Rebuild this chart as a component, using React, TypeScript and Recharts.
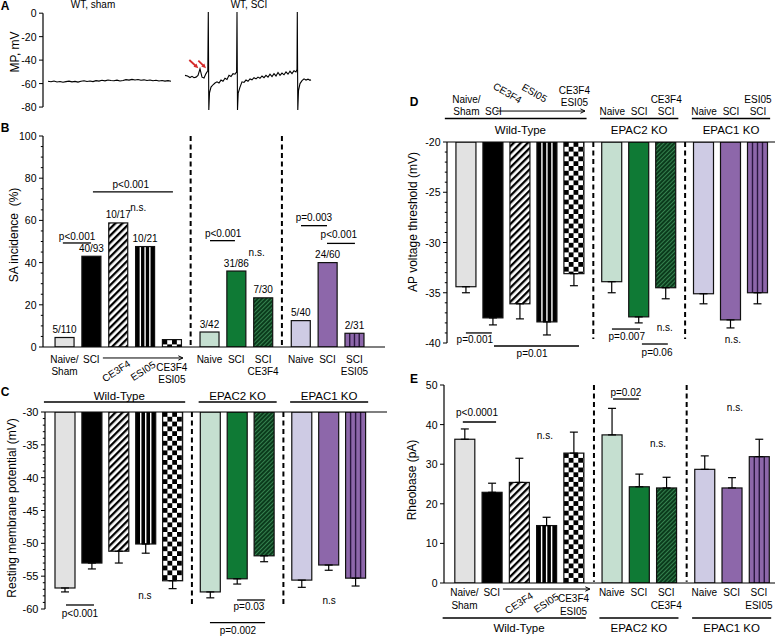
import React from 'react';
import {
  BarChart, Bar, XAxis, YAxis, ReferenceLine, ReferenceDot, ErrorBar, LabelList,
  LineChart, Line,
} from 'recharts';

const FONT = '"Liberation Sans", Arial, Helvetica, sans-serif';

// ---------- Panel A: membrane potential traces (time in ms, MP in mV)
const shamTime = [5, 8, 11, 14, 17, 20, 23, 26, 29, 32, 35, 38, 41, 44, 47, 50, 53, 56, 59, 62, 65, 68, 71, 74, 77, 80, 83, 86, 89, 92, 95, 98, 101, 104, 107, 110, 113, 116, 119, 122, 125, 128];
const shamMP = [-58.0, -58.4, -57.8, -58.6, -58.2, -58.9, -58.3, -57.9, -58.5, -58.1, -58.7, -58.0, -57.6, -58.2, -57.8, -58.3, -57.5, -57.9, -57.2, -57.7, -56.9, -57.4, -57.6, -57.1, -57.8, -57.3, -56.6, -57.0, -56.4, -56.9, -56.5, -57.2, -56.8, -57.4, -57.0, -57.6, -57.2, -57.8, -57.4, -57.9, -57.5, -58.0];
const sciTime = [142, 144.5, 147, 149, 151, 153, 155, 157, 159, 161, 163, 164.8, 165.3, 165.8, 166.5, 168, 170, 172, 174, 176, 178, 180, 182, 184, 186, 188, 190, 192, 193.6, 194, 194.5, 195.2, 197, 199, 201, 203, 205, 207, 209, 211, 213, 215, 217, 219, 221, 223, 225, 227, 229, 231, 233, 235, 237, 239, 241, 243, 245, 247, 249, 251, 253, 254, 254.3, 254.8, 255.5, 257, 259, 261, 263, 265, 267, 268];
const sciMP = [-53, -53.5, -54.8, -53.8, -55, -54.5, -53, -47.5, -54.5, -55.2, -51.5, -49, 1, -82.5, -68, -63, -61, -59.5, -58.5, -59.5, -57, -58, -55.5, -56.5, -53, -54, -51.5, -52, -50, 1, -82.5, -68, -63, -58.5, -59, -57, -58, -56, -56.8, -55, -56, -54.5, -55.5, -53.5, -55, -53, -54.5, -52, -54, -51.5, -53.5, -50.5, -53, -51, -52.5, -50, -52, -49.5, -51.5, -49, -50, -48, 1, -82.5, -66, -60, -57.5, -56, -57, -56.2, -57.2, -56.8];
const traceTicks = [0, -20, -40, -60, -80];

// ---------- Bar categories
const groupNames = ['Wild-Type', 'EPAC2 KO', 'EPAC1 KO'];
const groupSizes = [5, 3, 3];
const barKinds = ['naiveWT', 'sciWT', 'ce3f4WT', 'esi05WT', 'comboWT', 'naiveE2', 'sciE2', 'ce3f4E2', 'naiveE1', 'sciE1', 'esi05E1'];

const labelsBottom = [['Naive/', 'Sham'], ['SCI'], ['CE3F4'], ['ESI05'], ['CE3F4', 'ESI05'], ['Naive'], ['SCI'], ['SCI', 'CE3F4'], ['Naive'], ['SCI'], ['SCI', 'ESI05']];
const labelsTop = [['Naive/', 'Sham'], ['SCI'], ['CE3F4'], ['ESI05'], ['CE3F4', 'ESI05'], ['Naive'], ['SCI'], ['CE3F4', 'SCI'], ['Naive'], ['SCI'], ['ESI05', 'SCI']];
const labelModes = ['stack', 'stack', 'rot', 'rot', 'low', 'stack', 'stack', 'stack', 'stack', 'stack', 'stack'];

// ---------- Values
const saIncidence = [4.5, 43.0, 58.8, 47.6, 3.5, 7.1, 36.0, 23.3, 12.5, 40.0, 6.5];
const saFraction = ['5/110', '40/93', '10/17', '10/21', '', '3/42', '31/86', '7/30', '5/40', '24/60', '2/31'];
const rmpMean = [-56.8, -53.0, -51.2, -50.1, -55.7, -57.4, -55.4, -51.9, -55.6, -53.3, -55.3];
const rmpSem = [0.6, 0.9, 1.8, 1.4, 1.2, 0.9, 0.8, 0.9, 1.1, 0.8, 1.2];
const thrMean = [-34.4, -37.5, -36.1, -37.9, -33.1, -33.9, -37.4, -34.5, -35.1, -37.7, -35.0];
const thrSem = [0.6, 0.7, 1.5, 1.3, 1.2, 1.1, 0.6, 1.1, 1.0, 0.8, 1.1];
const rheoMean = [36.3, 22.9, 25.4, 14.5, 32.8, 37.4, 24.3, 24.0, 28.7, 24.0, 31.9];
const rheoSem = [2.6, 2.3, 6.1, 2.1, 5.3, 6.7, 3.2, 2.7, 3.4, 2.6, 4.4];

const saTicks = [0, 20, 40, 60, 80, 100];
const rmpTicks = [-60, -55, -50, -45, -40, -35, -30];
const thrTicks = [-40, -35, -30, -25, -20];
const rheoTicks = [0, 10, 20, 30, 40, 50];

// ---------- layout helpers (category slots with a gap between genotype groups)
const GAP = 0.4;
const barPos: number[] = [];
const groupFirst: number[] = [];
const groupLast: number[] = [];
{
  let s = 0;
  groupSizes.forEach((n) => {
    groupFirst.push(s);
    for (let i = 0; i < n; i++) barPos.push(s + i);
    groupLast.push(s + n - 1);
    s += n + GAP;
  });
}
const sepPos = [0, 1].map((g) => (groupLast[g] + groupFirst[g + 1]) / 2);

function makeRows(panel: string, values: number[], sems: number[] | null, dir: 'down' | 'up', fracs?: string[]) {
  return barKinds.map((kind, i) => ({
    panel, i, kind,
    pos: barPos[i],
    value: values[i],
    err: sems ? (dir === 'down' ? [sems[i], 0] : [0, sems[i]]) : undefined,
    frac: fracs ? fracs[i] : '',
  }));
}

function buildTicks(lo: number, hi: number, step: number) {
  const out: number[] = [];
  for (let v = lo; v <= hi + 1e-9; v += step) out.push(Math.round(v * 1000) / 1000);
  return out;
}

const makeYTick = (majors: number[], fs: number) => (p: any) => {
  const v = Number(p.payload.value);
  const isMajor = majors.some((m) => Math.abs(m - v) < 1e-6);
  const L = isMajor ? 4 : 2.2;
  return (
    <g>
      <line x1={p.x - L} x2={p.x} y1={p.y} y2={p.y} stroke="#000" strokeWidth={1} />
      {isMajor && (
        <text x={p.x - L - 2.5} y={p.y} textAnchor="end" dominantBaseline="central" fontSize={fs} fontFamily={FONT} fill="#000">
          {String(v)}
        </text>
      )}
    </g>
  );
};

type TickCfg = { side: 'top' | 'bottom'; first: number; rot: number; low: number; gap: number; angle: number; rotDx: number; fs: number; labels: string[][] };

const makeXTick = (cfg: TickCfg) => (p: any) => {
  const v = Number(p.payload.value);
  const i = barPos.findIndex((q) => Math.abs(q - v) < 1e-6);
  if (i < 0) return <g />;
  const lines = cfg.labels[i];
  const mode = labelModes[i];
  const dir = cfg.side === 'bottom' ? 1 : -1;
  const common = { textAnchor: 'middle' as const, dominantBaseline: 'central' as const, fontSize: cfg.fs, fontFamily: FONT, fill: '#000' };
  if (mode === 'rot') {
    const cx = p.x + cfg.rotDx;
    const cy = p.y + dir * cfg.rot;
    return (
      <g>
        <text {...common} x={0} y={0} transform={`translate(${cx},${cy}) rotate(${cfg.angle})`}>{lines[0]}</text>
      </g>
    );
  }
  const base = mode === 'low' ? cfg.low : cfg.first;
  const n = lines.length;
  return (
    <g>
      {lines.map((s, k) => {
        const off = cfg.side === 'bottom' ? base + k * cfg.gap : -(base + (n - 1 - k) * cfg.gap);
        return <text key={k} {...common} x={p.x} y={p.y + off}>{s}</text>;
      })}
    </g>
  );
};

const BAR_LOOK: Record<string, { fill?: string; pattern?: string; stripe?: string }> = {
  naiveWT: { fill: '#e2e2e2' },
  sciWT: { fill: '#000000' },
  ce3f4WT: { pattern: 'hatch' },
  esi05WT: { fill: '#000000', stripe: '#ffffff' },
  comboWT: { pattern: 'checker' },
  naiveE2: { fill: '#c5dfd0' },
  sciE2: { fill: '#0f7a35' },
  ce3f4E2: { pattern: 'hatchG' },
  naiveE1: { fill: '#cecbe4' },
  sciE1: { fill: '#8d67aa' },
  esi05E1: { fill: '#8d67aa', stripe: '#2a1740' },
};

const BarShape = (p: any) => {
  const { x, y, width, height, payload } = p;
  if (x == null || y == null || width == null || height == null || !payload) return <g />;
  const top = height < 0 ? y + height : y;
  const h = Math.abs(height);
  const look = BAR_LOOK[payload.kind] || { fill: '#ccc' };
  const id = `pat-${payload.panel}-${payload.i}`;
  let fill = look.fill || '#fff';
  let defs: React.ReactNode = null;
  if (look.pattern === 'hatch') {
    defs = (
      <pattern id={id} patternUnits="userSpaceOnUse" width={5} height={5} patternTransform="rotate(45)">
        <rect width={5} height={5} fill="#fff" />
        <rect width={2.3} height={5} fill="#000" />
      </pattern>
    );
    fill = `url(#${id})`;
  } else if (look.pattern === 'hatchG') {
    defs = (
      <pattern id={id} patternUnits="userSpaceOnUse" width={3} height={3} patternTransform="rotate(45)">
        <rect width={3} height={3} fill="#0b3b1c" />
        <rect width={0.9} height={3} fill="#3a8a55" />
      </pattern>
    );
    fill = `url(#${id})`;
  } else if (look.pattern === 'checker') {
    const c = 4.8;
    defs = (
      <pattern id={id} patternUnits="userSpaceOnUse" x={x} y={top} width={2 * c} height={2 * c}>
        <rect width={2 * c} height={2 * c} fill="#fff" />
        <rect width={c} height={c} fill="#000" />
        <rect x={c} y={c} width={c} height={c} fill="#000" />
      </pattern>
    );
    fill = `url(#${id})`;
  }
  const stripes = look.stripe
    ? [1, 2, 3].map((k) => (
        <line key={k} x1={x + (width * k) / 4} x2={x + (width * k) / 4} y1={top} y2={top + h} stroke={look.stripe} strokeWidth={1.4} />
      ))
    : null;
  return (
    <g>
      {defs && <defs>{defs}</defs>}
      <rect x={x} y={top} width={width} height={h} fill={fill} />
      {stripes}
      <rect x={x} y={top} width={width} height={h} fill="none" stroke="#111" strokeWidth={1.2} />
    </g>
  );
};

const FracLabel = (p: any) => {
  if (!p.value) return null;
  return (
    <text x={p.x + p.width / 2} y={p.y - 8} textAnchor="middle" dominantBaseline="central" fontSize={10} fontFamily={FONT} fill="#000">
      {p.value}
    </text>
  );
};

// ---------- annotation helpers (data coordinates)
const hl = (k: string, x1: number, x2: number, y: number) => (
  <ReferenceLine key={k} segment={[{ x: x1, y }, { x: x2, y }]} stroke="#000" strokeWidth={1.3} ifOverflow="visible" />
);
const note = (k: string, x: number, y: number, text: string, size = 10) => (
  <ReferenceDot
    key={k} x={x} y={y} r={1} ifOverflow="visible"
    shape={(p: any) => (
      <text x={p.cx} y={p.cy} textAnchor="middle" dominantBaseline="central" fontSize={size} fontFamily={FONT} fill="#000">{text}</text>
    )}
  />
);
const dashV = (k: string, x: number, y1: number, y2: number) => (
  <ReferenceLine key={k} segment={[{ x, y: y1 }, { x, y: y2 }]} stroke="#000" strokeWidth={2} strokeDasharray="5 3.5" ifOverflow="visible" />
);

const ArrowShape = (filled: boolean, head: number, sw: number) => (p: any) => {
  const { x1, y1, x2, y2, stroke } = p;
  if ([x1, y1, x2, y2].some((v) => v == null || isNaN(v))) return <g />;
  const a = Math.atan2(y2 - y1, x2 - x1);
  const hx1 = x2 - head * Math.cos(a - 0.45), hy1 = y2 - head * Math.sin(a - 0.45);
  const hx2 = x2 - head * Math.cos(a + 0.45), hy2 = y2 - head * Math.sin(a + 0.45);
  if (filled) {
    const ex = x2 - head * 0.8 * Math.cos(a), ey = y2 - head * 0.8 * Math.sin(a);
    return (
      <g>
        <line x1={x1} y1={y1} x2={ex} y2={ey} stroke={stroke} strokeWidth={sw} />
        <path d={`M${x2},${y2} L${hx1},${hy1} L${hx2},${hy2} Z`} fill={stroke} />
      </g>
    );
  }
  return (
    <g>
      <line x1={x1} y1={y1} x2={x2} y2={y2} stroke={stroke} strokeWidth={sw} />
      <path d={`M${hx1},${hy1} L${x2},${y2} L${hx2},${hy2}`} fill="none" stroke={stroke} strokeWidth={sw} />
    </g>
  );
};
const arrowRef = (k: string, xa: number, ya: number, xb: number, yb: number, color: string, filled: boolean, head: number, sw: number) => (
  <ReferenceLine key={k} segment={[{ x: xa, y: ya }, { x: xb, y: yb }]} stroke={color} ifOverflow="visible" shape={ArrowShape(filled, head, sw)} />
);

const groupMarks = (p: string, lineY: number, labelY: number) =>
  groupNames.flatMap((name, g) => [
    hl(`${p}gl${g}`, groupFirst[g] - (g === 0 ? 0.8 : 0.45), groupLast[g] + 0.45, lineY),
    note(`${p}gt${g}`, (groupFirst[g] + groupLast[g]) / 2, labelY, name, 11.5),
  ]);
const separators = (p: string, y1: number, y2: number, shift = 0) => sepPos.map((x, k) => dashV(`${p}sep${k}`, x + shift, y1, y2));

// ---------- generic bar panel
type PanelProps = {
  box: [number, number, number, number];
  margin: { top: number; right: number; bottom: number; left: number };
  xDomain: [number, number];
  yDomain: [number, number];
  majors: number[];
  minorStep: number;
  rows: any[];
  xSide: 'top' | 'bottom';
  tickCfg?: TickCfg;
  barSize: number;
  errors: boolean;
  fracs: boolean;
  notes: React.ReactNode[];
  tickFs: number;
};

function BarPanel(props: PanelProps) {
  const { box, margin, xDomain, yDomain, majors, minorStep, rows, xSide, tickCfg, barSize, errors, fracs, notes, tickFs } = props;
  const yTicks = buildTicks(yDomain[0], yDomain[1], minorStep);
  return (
    <div style={{ position: 'absolute', left: box[0], top: box[1], width: box[2], height: box[3] }}>
      <BarChart width={box[2]} height={box[3]} data={rows} margin={margin}>
        <XAxis
          type="number" dataKey="pos" domain={xDomain} allowDataOverflow orientation={xSide} height={10}
          ticks={tickCfg ? barPos : []} interval={0} tick={tickCfg ? makeXTick(tickCfg) : false}
          tickLine={false} tickSize={0} tickMargin={0} axisLine={{ stroke: '#000', strokeWidth: 1.2 }}
        />
        <YAxis
          type="number" domain={yDomain} allowDataOverflow ticks={yTicks} interval={0}
          tick={makeYTick(majors, tickFs)} tickLine={false} tickSize={0} tickMargin={0} width={30}
          axisLine={{ stroke: '#000', strokeWidth: 1.2 }}
        />
        <Bar dataKey="value" barSize={barSize} shape={BarShape} isAnimationActive={false}>
          {errors && <ErrorBar dataKey="err" width={4} stroke="#000" strokeWidth={1.2} direction="y" />}
          {fracs && <LabelList dataKey="frac" content={FracLabel} />}
        </Bar>
        {notes}
      </BarChart>
    </div>
  );
}

const Txt = ({ x, y, size, bold, rot, children }: { x: number; y: number; size: number; bold?: boolean; rot?: boolean; children: React.ReactNode }) => (
  <div
    style={{
      position: 'absolute', left: x, top: y, transform: `translate(-50%,-50%)${rot ? ' rotate(-90deg)' : ''}`,
      fontSize: size, fontWeight: bold ? 700 : 400, whiteSpace: 'nowrap', lineHeight: 1, fontFamily: FONT, color: '#000',
    }}
  >
    {children}
  </div>
);

export default function App() {
  const shamData = shamTime.map((t, i) => ({ t, v: shamMP[i] }));
  const sciData = sciTime.map((t, i) => ({ t, v: sciMP[i] }));

  const rowsB = makeRows('B', saIncidence, null, 'up', saFraction);
  const rowsC = makeRows('C', rmpMean, rmpSem, 'down');
  const rowsD = makeRows('D', thrMean, thrSem, 'down');
  const rowsE = makeRows('E', rheoMean, rheoSem, 'up');

  const notesB = [
    hl('b1', -0.06, 0.99, 49.3), note('b1t', 0.47, 52.6, 'p<0.001'),
    hl('b2', 1.06, 4.04, 73.5), note('b2t', 2.47, 77.1, 'p<0.001'),
    note('b3', 2.75, 66.2, 'n.s.'),
    hl('b4', 5.42, 6.35, 50.4), note('b4t', 5.91, 53.9, 'p<0.001'),
    note('b5', 7.16, 44.7, 'n.s.'),
    hl('b6', 8.81, 9.78, 57.5), note('b6t', 9.29, 61.3, 'p=0.003'),
    hl('b7', 9.78, 10.82, 49.1), note('b7t', 10.22, 53.1, 'p<0.001'),
    ...separators('b', 1, 100),
    arrowRef('barr', 1.43, -5.2, 4.41, -5.2, '#000', false, 5, 1),
  ];
  const notesC = [
    ...groupMarks('c', -28.48, -27.56),
    hl('c1', 0.02, 1.06, -59.39), note('c1t', 0.54, -60.76, 'p<0.001'),
    note('c2', 2.95, -57.87, 'n.s'),
    hl('c3', 6.38, 7.42, -58.63), note('c3t', 6.82, -59.69, 'p=0.03'),
    hl('c4', 5.37, 7.42, -62.07), note('c4t', 6.41, -63.29, 'p=0.002'),
    note('c5', 9.8, -58.63, 'n.s'),
    ...separators('c', -30, -59.5),
  ];
  const notesD = [
    ...groupMarks('d', -17.66, -18.81),
    arrowRef('darr', 1.09, -16.92, 4.39, -16.92, '#000', false, 5, 1),
    hl('d1', -0.02, 0.94, -39.0), note('d1t', 0.31, -39.7, 'p=0.001'),
    hl('d2', 1.02, 4.17, -40.3), note('d2t', 2.43, -41.09, 'p=0.01'),
    hl('d3', 5.39, 6.43, -38.61), note('d3t', 5.94, -39.4, 'p=0.007'),
    hl('d4', 6.5, 7.46, -40.1), note('d4t', 7.06, -40.99, 'p=0.06'),
    note('d5', 7.35, -38.41, 'n.s.'),
    note('d6', 9.87, -39.7, 'n.s.'),
    ...separators('d', -20, -39.6),
  ];
  const notesE = [
    ...groupMarks('e', -8.84, -11.36),
    arrowRef('earr', 1.41, -1.52, 4.6, -1.52, '#000', false, 5, 1),
    hl('e1', -0.06, 1.16, 40.66), note('e1t', 0.46, 42.93, 'p<0.0001'),
    note('e2', 2.95, 37.37, 'n.s.'),
    hl('e3', 5.45, 6.4, 46.46), note('e3t', 5.92, 48.23, 'p=0.02'),
    note('e4', 7.1, 35.35, 'n.s.'),
    note('e5', 9.92, 44.44, 'n.s.'),
    ...separators('e', 50, 0.3, 0.05),
  ];

  const cfgB: TickCfg = { side: 'bottom', first: 12, rot: 24, low: 20, gap: 12, angle: -33, rotDx: -2, fs: 10, labels: labelsBottom };
  const cfgD: TickCfg = { side: 'top', first: 31, rot: 49, low: 40, gap: 12, angle: 30, rotDx: -13, fs: 10, labels: labelsTop };
  const cfgE: TickCfg = { side: 'bottom', first: 9, rot: 20, low: 15, gap: 13, angle: -33, rotDx: 0, fs: 10, labels: labelsBottom };

  return (
    <div style={{ position: 'absolute', left: 0, top: 0, width: 779, height: 636, background: '#fff', overflow: 'hidden', fontFamily: FONT }}>
      {/* Panel A */}
      <div style={{ position: 'absolute', left: 0, top: 0, width: 390, height: 115 }}>
        <LineChart width={390} height={115} margin={{ top: 12, right: 72, bottom: 5, left: 13 }}>
          <XAxis type="number" dataKey="t" domain={[0, 275]} allowDataOverflow hide />
          <YAxis
            type="number" domain={[-82.5, 1]} allowDataOverflow ticks={traceTicks} interval={0}
            tick={makeYTick(traceTicks, 10.5)} tickLine={false} tickSize={0} tickMargin={0} axisLine={false} width={30}
          />
          <ReferenceLine segment={[{ x: 0, y: 0 }, { x: 0, y: -80 }]} stroke="#000" strokeWidth={1.2} ifOverflow="visible" />
          <Line data={shamData} dataKey="v" type="linear" stroke="#000" strokeWidth={1.1} dot={false} isAnimationActive={false} />
          <Line data={sciData} dataKey="v" type="linear" stroke="#000" strokeWidth={1.1} dot={false} isAnimationActive={false} />
          {arrowRef('a1', 146.3, -39.9, 155.3, -46.9, '#d42a2a', true, 5, 1.8)}
          {arrowRef('a2', 155.3, -40.4, 163, -46.9, '#d42a2a', true, 5, 1.8)}
        </LineChart>
      </div>

      <BarPanel
        box={[0, 125, 390, 260]} margin={{ top: 11, right: 5, bottom: 28, left: 13 }}
        xDomain={[-0.8, 11.94]} yDomain={[0, 100]} majors={saTicks} minorStep={5}
        rows={rowsB} xSide="bottom" tickCfg={cfgB} barSize={19} errors={false} fracs notes={notesB} tickFs={10.5}
      />
      <BarPanel
        box={[0, 385, 390, 251]} margin={{ top: 17, right: 3, bottom: 27, left: 15 }}
        xDomain={[-0.76, 11.95]} yDomain={[-60, -30]} majors={rmpTicks} minorStep={1}
        rows={rowsC} xSide="top" barSize={20} errors fracs={false} notes={notesC} tickFs={11}
      />
      <BarPanel
        box={[390, 60, 389, 300]} margin={{ top: 72, right: 4, bottom: 17, left: 27 }}
        xDomain={[-0.72, 11.43]} yDomain={[-40, -20]} majors={thrTicks} minorStep={1}
        rows={rowsD} xSide="top" tickCfg={cfgD} barSize={20} errors fracs={false} notes={notesD} tickFs={10.5}
      />
      <BarPanel
        box={[390, 370, 389, 266]} margin={{ top: 15, right: 4, bottom: 43, left: 24 }}
        xDomain={[-0.75, 11.39]} yDomain={[0, 50]} majors={rheoTicks} minorStep={10}
        rows={rowsE} xSide="bottom" tickCfg={cfgE} barSize={20} errors fracs={false} notes={notesE} tickFs={10.5}
      />

      {/* Panel letters and titles */}
      <Txt x={5} y={6} size={12} bold>A</Txt>
      <Txt x={93} y={5} size={10}>WT, sham</Txt>
      <Txt x={249} y={5} size={10}>WT, SCI</Txt>
      <Txt x={15} y={52} size={12} rot>MP, mV</Txt>

      <Txt x={5} y={128} size={12} bold>B</Txt>
      <Txt x={14} y={235} size={12} rot>SA incidence&nbsp;&nbsp;(%)</Txt>

      <Txt x={5} y={392} size={12} bold>C</Txt>
      <Txt x={12} y={508} size={12} rot>Resting membrane potential (mV)</Txt>

      <Txt x={414} y={102} size={12} bold>D</Txt>
      <Txt x={413} y={222} size={12} rot>AP voltage threshold (mV)</Txt>

      <Txt x={414} y={379} size={12} bold>E</Txt>
      <Txt x={412} y={480} size={12} rot>Rheobase (pA)</Txt>
    </div>
  );
}
